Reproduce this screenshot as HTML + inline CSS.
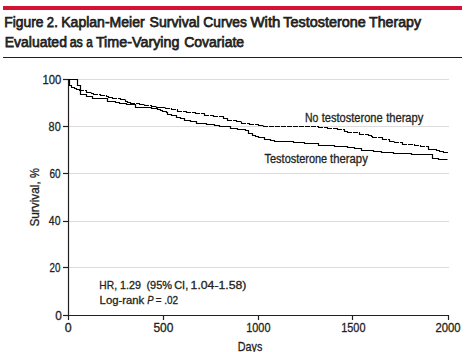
<!DOCTYPE html>
<html><head><meta charset="utf-8"><style>
html,body{margin:0;padding:0;background:#fff;width:469px;height:352px;overflow:hidden}
svg{display:block}
text{font-family:"Liberation Sans",sans-serif}
</style></head><body>
<svg width="469" height="352" viewBox="0 0 469 352">
<rect x="3" y="6" width="459" height="4" fill="#d31236"/>
<g font-size="15.2" fill="#231f20" stroke="#231f20" stroke-width="0.75"><text x="4.21" y="27.0" textLength="39.28" lengthAdjust="spacingAndGlyphs">Figure</text><text x="46.87" y="27.0" textLength="10.91" lengthAdjust="spacingAndGlyphs">2.</text><text x="61.22" y="27.0" textLength="83.48" lengthAdjust="spacingAndGlyphs">Kaplan-Meier</text><text x="149.5" y="27.0" textLength="50.2" lengthAdjust="spacingAndGlyphs">Survival</text><text x="203.37" y="27.0" textLength="43.43" lengthAdjust="spacingAndGlyphs">Curves</text><text x="250.4" y="27.0" textLength="30.0" lengthAdjust="spacingAndGlyphs">With</text><text x="283.3" y="27.0" textLength="82.5" lengthAdjust="spacingAndGlyphs">Testosterone</text><text x="369.12" y="27.0" textLength="51.86" lengthAdjust="spacingAndGlyphs">Therapy</text><text x="4.76" y="47.2" textLength="62.16" lengthAdjust="spacingAndGlyphs">Evaluated</text><text x="69.64" y="47.2" textLength="13.2" lengthAdjust="spacingAndGlyphs">as</text><text x="86.3" y="47.2" textLength="6.5" lengthAdjust="spacingAndGlyphs">a</text><text x="95.9" y="47.2" textLength="83.54" lengthAdjust="spacingAndGlyphs">Time-Varying</text><text x="184.2" y="47.2" textLength="59.9" lengthAdjust="spacingAndGlyphs">Covariate</text></g>
<rect x="3" y="57" width="459" height="1" fill="#231f20"/>
<g stroke="#dcdcdc" stroke-width="1"><line x1="69" y1="79.5" x2="449" y2="79.5"/><line x1="69" y1="126.5" x2="449" y2="126.5"/><line x1="69" y1="173.5" x2="449" y2="173.5"/><line x1="69" y1="221.5" x2="449" y2="221.5"/><line x1="69" y1="267.5" x2="449" y2="267.5"/></g>
<g stroke="#231f20" stroke-width="1.2"><line x1="63" y1="79.5" x2="68.5" y2="79.5"/><line x1="63" y1="126.5" x2="68.5" y2="126.5"/><line x1="63" y1="173.5" x2="68.5" y2="173.5"/><line x1="63" y1="221.5" x2="68.5" y2="221.5"/><line x1="63" y1="267.5" x2="68.5" y2="267.5"/><line x1="63" y1="315.5" x2="68.5" y2="315.5"/><line x1="68.5" y1="315.5" x2="68.5" y2="320"/><line x1="163.5" y1="315.5" x2="163.5" y2="320"/><line x1="258.5" y1="315.5" x2="258.5" y2="320"/><line x1="352.5" y1="315.5" x2="352.5" y2="320"/><line x1="448.5" y1="315.5" x2="448.5" y2="320"/>
<line x1="68.5" y1="79" x2="68.5" y2="316"/>
<line x1="68" y1="315.5" x2="449" y2="315.5"/>
</g>

<path d="M68.5,79.5H77.5V85.5H80.5V94.5H86.5V96.5H92.5V98.5H107.5V101.5H115.5V102.5H119.5V103.5H126.5V104.5H135.5V107.5H151.5V108.5H155.5V108.5H157.5V109.5H160.5V110.5H162.5V111.5H166.5V112.5H167.5V114.5H171.5V115.5H176.5V117.5H180.5V118.5H184.5V120.5H190.5V121.5H196.5V123.5H206.5V124.5H214.5V125.5H219.5V126.5H230.5V128.5H237.5V129.5H245.5V130.5H248.5V133.5H252.5V135.5H255.5V136.5H258.5V137.5H264.5V139.5H270.5V140.5H274.5V141.5H293.5V142.5H304.5V143.5H318.5V145.5H322.5V145.5H334.5V146.5H347.5V147.5H354.5V148.5H361.5V150.5H373.5V151.5H381.5V152.5H393.5V153.5H411.5V154.5H432.5V158.5H438.5V159.5H447.5" fill="none" stroke="#000" stroke-width="1.2"/>
<path d="M68,79.5H69M69.5,79.5V85.5M69,85.5H72M71.5,85.5V87.5M71,87.5H75M74.5,87.5V88.5M74,88.5H77M76.5,88.5V89.5M76,89.5H80M79.5,89.5V90.5M79,90.5H84M85,90.5H87M86.5,90.5V92.5M86,92.5H91M91.5,92.5V93.5M91,93.5H94M93.5,93.5V94.5M93,94.5H98M99,94.5H101M100.5,94.5V95.5M100,95.5H105M106,95.5H107M106.5,95.5V96.5M106,96.5H109M108.5,96.5V97.5M108,97.5H113M112.5,97.5V98.5M112,98.5H117M118,98.5H121M120.5,98.5V99.5M120,99.5H125M125.5,99.5V101.5M125,101.5H128M127.5,101.5V102.5M127,102.5H131M130.5,102.5V103.5M130,103.5H135M136,103.5H140M139.5,103.5V104.5M139,104.5H144M144.5,104.5V105.5M144,105.5H149M150,105.5H152M151.5,105.5V106.5M151,106.5H156M156.5,106.5V107.5M156,107.5H161M160,107.5H165M165.5,107.5V108.5M165,108.5H170M171,108.5H172M171.5,108.5V109.5M171,109.5H176M177,109.5H178M177.5,109.5V111.5M177,111.5H182M183,111.5H187M186.5,111.5V112.5M186,112.5H191M192,112.5H196M195.5,112.5V113.5M195,113.5H200M201,113.5H205M204.5,113.5V115.5M204,115.5H209M210,115.5H214M213.5,115.5V116.5M213,116.5H218M219,116.5H224M223.5,116.5V118.5M223,118.5H228M227.5,118.5V120.5M227,120.5H232M233,120.5H237M236.5,120.5V121.5M236,121.5H241M241.5,121.5V123.5M241,123.5H246M247,123.5H250M249.5,123.5V124.5M249,124.5H254M255,124.5H259M258.5,124.5V125.5M258,125.5H263M263.5,125.5V126.5M263,126.5H268M269,126.5H274M275,126.5H280M281,126.5H286M287,126.5H292M293,126.5H298M299,126.5H304M305,126.5H310M311,126.5H316M317,126.5H319M318.5,126.5V127.5M318,127.5H323M324,127.5H328M327.5,127.5V128.5M327,128.5H332M333,128.5H338M337.5,128.5V129.5M337,129.5H342M343,129.5H345M344.5,129.5V131.5M344,131.5H348M347.5,131.5V132.5M347,132.5H352M353,132.5H358M359,132.5H360M359.5,132.5V134.5M359,134.5H364M365,134.5H369M368.5,134.5V135.5M368,135.5H372M371.5,135.5V136.5M371,136.5H373M372.5,136.5V137.5M372,137.5H377M378,137.5H383M382.5,137.5V139.5M382,139.5H387M388,139.5H390M389.5,139.5V141.5M389,141.5H394M394.5,141.5V142.5M394,142.5H399M400,142.5H403M402.5,142.5V144.5M402,144.5H407M408,144.5H413M414,144.5H415M414.5,144.5V145.5M414,145.5H419M420,145.5H421M420.5,145.5V146.5M420,146.5H425M426,146.5H427M426,146.5H429M428.5,146.5V149.5M428,149.5H433M433,149.5H437M436.5,149.5V150.5M436,150.5H440M439.5,150.5V151.5M439,151.5H444M443.5,151.5V152.5M443,152.5H448" fill="none" stroke="#000" stroke-width="1.2"/>
<g fill="#231f20" stroke="#231f20" stroke-width="0.3"><text x="304.9" y="121.6" font-size="12.4" textLength="13.41" lengthAdjust="spacingAndGlyphs">No</text><text x="321.7" y="121.6" font-size="12.4" textLength="60.91" lengthAdjust="spacingAndGlyphs">testosterone</text><text x="386.13" y="121.6" font-size="12.4" textLength="37.27" lengthAdjust="spacingAndGlyphs">therapy</text><text x="264.57" y="162.9" font-size="12.4" textLength="62.65" lengthAdjust="spacingAndGlyphs">Testosterone</text><text x="330.12" y="162.9" font-size="12.4" textLength="37.68" lengthAdjust="spacingAndGlyphs">therapy</text><text x="99.32" y="289" font-size="11" textLength="17.67" lengthAdjust="spacingAndGlyphs">HR,</text><text x="120.07" y="289" font-size="11" textLength="20.86" lengthAdjust="spacingAndGlyphs">1.29</text><text x="146.43" y="289" font-size="11" textLength="25.58" lengthAdjust="spacingAndGlyphs">(95%</text><text x="174.24" y="289" font-size="11" textLength="13.93" lengthAdjust="spacingAndGlyphs">CI,</text><text x="190.58" y="289" font-size="11" textLength="55.88" lengthAdjust="spacingAndGlyphs">1.04-1.58)</text><text x="99.61" y="304.3" font-size="11" textLength="44.59" lengthAdjust="spacingAndGlyphs">Log-rank</text><text x="147.32" y="304.3" font-size="11" font-style="italic" textLength="6.34" lengthAdjust="spacingAndGlyphs">P</text><text x="155.74" y="304.3" font-size="11" textLength="5.78" lengthAdjust="spacingAndGlyphs">=</text><text x="164.22" y="304.3" font-size="11" textLength="13.93" lengthAdjust="spacingAndGlyphs">.02</text><text transform="rotate(-90)" x="-226.61" y="38.9" font-size="12.4" textLength="45.31" lengthAdjust="spacingAndGlyphs">Survival,</text><text transform="rotate(-90)" x="-178.0" y="38.9" font-size="12.4" textLength="9.89" lengthAdjust="spacingAndGlyphs">%</text><text x="237.76" y="351.2" font-size="13.5" textLength="24.53" lengthAdjust="spacingAndGlyphs">Days</text><text x="42.56" y="83.7" font-size="12" textLength="18.82" lengthAdjust="spacingAndGlyphs">100</text><text x="48.62" y="130.7" font-size="12" textLength="12.07" lengthAdjust="spacingAndGlyphs">80</text><text x="49.55" y="177.7" font-size="12" textLength="11.1" lengthAdjust="spacingAndGlyphs">60</text><text x="48.87" y="225.2" font-size="12" textLength="11.6" lengthAdjust="spacingAndGlyphs">40</text><text x="49.56" y="271.7" font-size="12" textLength="10.88" lengthAdjust="spacingAndGlyphs">20</text><text x="55.24" y="319.5" font-size="12" textLength="6.63" lengthAdjust="spacingAndGlyphs">0</text><text x="64.82" y="331.8" font-size="12" textLength="6.92" lengthAdjust="spacingAndGlyphs">0</text><text x="153.4" y="331.8" font-size="12" textLength="20.0" lengthAdjust="spacingAndGlyphs">500</text><text x="246.23" y="331.8" font-size="12" textLength="24.26" lengthAdjust="spacingAndGlyphs">1000</text><text x="341.23" y="331.8" font-size="12" textLength="24.26" lengthAdjust="spacingAndGlyphs">1500</text><text x="435.4" y="331.8" font-size="12" textLength="25.1" lengthAdjust="spacingAndGlyphs">2000</text></g>
</svg>
</body></html>
